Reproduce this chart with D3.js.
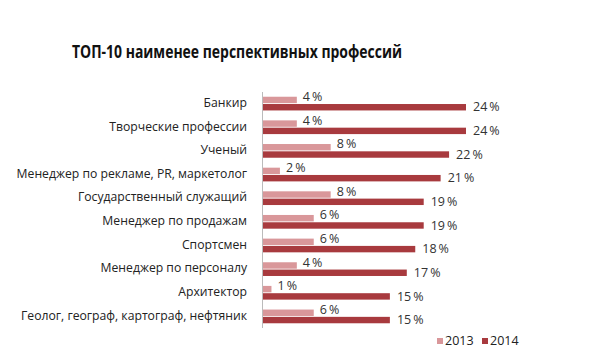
<!DOCTYPE html>
<meta charset="utf-8">
<style>
body { margin: 0; background: #fff; }
svg { font-family: "Open Sans", "DejaVu Sans", sans-serif; }
</style>
<body>
<script src="https://d3js.org/d3.v7.min.js"></script>
<script>
// data
const categories = [
  "Банкир",
  "Творческие профессии",
  "Ученый",
  "Менеджер по рекламе, PR, маркетолог",
  "Государственный служащий",
  "Менеджер по продажам",
  "Спортсмен",
  "Менеджер по персоналу",
  "Архитектор",
  "Геолог, географ, картограф, нефтяник"
];
const series = ["2013", "2014"];
const values2013 = [4, 4, 8, 2, 8, 6, 6, 4, 1, 6];
const values2014 = [24, 24, 22, 21, 19, 19, 18, 17, 15, 15];
const colors = ["#d9979a", "#a83a3e"];

const width = 610, height = 351;
const svg = d3.select("body").append("svg")
  .attr("width", width)
  .attr("height", height);

// title (font is narrower in the original, squeeze to its width)
svg.append("text")
  .attr("x", 72)
  .attr("y", 58)
  .attr("font-size", 18)
  .attr("font-weight", "bold")
  .attr("fill", "#111")
  .attr("textLength", 330)
  .attr("lengthAdjust", "spacingAndGlyphs")
  .text("ТОП-10 наименее перспективных профессий");

const x = d3.scaleLinear().domain([0, 24]).range([263, 466]);
const y = d3.scaleBand().domain(categories).range([92, 328]).paddingInner(0.42).paddingOuter(0.2);
const y2 = d3.scaleBand().domain(series).range([0, y.bandwidth()]).paddingInner(0.12);

const rows = categories.map((c, i) => ({ cat: c, v: [values2013[i], values2014[i]] }));

const g = svg.selectAll("g.row")
  .data(rows)
  .enter().append("g")
  .attr("class", "row")
  .attr("transform", d => `translate(0,${y(d.cat)})`);

series.forEach((s, k) => {
  g.append("rect")
    .attr("x", x(0))
    .attr("y", y2(s))
    .attr("width", d => x(d.v[k]) - x(0))
    .attr("height", y2.bandwidth())
    .attr("fill", colors[k]);

  g.append("text")
    .attr("x", d => x(d.v[k]) + (k === 0 ? 6 : 7))
    .attr("y", y2(s) + y2.bandwidth() / 2 + (k === 0 ? 0 : 3))
    .attr("dy", "0.1em")
    .attr("font-size", 12.5)
    .attr("fill", "#333")
    .text(d => d.v[k] + "\u2009%");
});

// category labels
g.append("text")
  .attr("x", 247)
  .attr("y", y.bandwidth() / 2 - 1)
  .attr("dy", "0.35em")
  .attr("text-anchor", "end")
  .attr("font-size", 12.2)
  .attr("fill", "#222")
  .text(d => d.cat);

// axis line
svg.append("line")
  .attr("x1", x(0) - 0.5).attr("x2", x(0) - 0.5)
  .attr("y1", 92).attr("y2", 328)
  .attr("stroke", "#bbb");

// legend
const leg = svg.selectAll("g.leg")
  .data(series)
  .enter().append("g")
  .attr("class", "leg")
  .attr("transform", (d, i) => `translate(${437 + i * 45},338)`);
leg.append("rect")
  .attr("width", 6).attr("height", 6)
  .attr("fill", (d, i) => colors[i]);
leg.append("text")
  .attr("x", 8).attr("y", 3).attr("dy", "0.35em")
  .attr("font-size", 12.5)
  .attr("fill", "#222")
  .text(d => d);
</script>
</body>
